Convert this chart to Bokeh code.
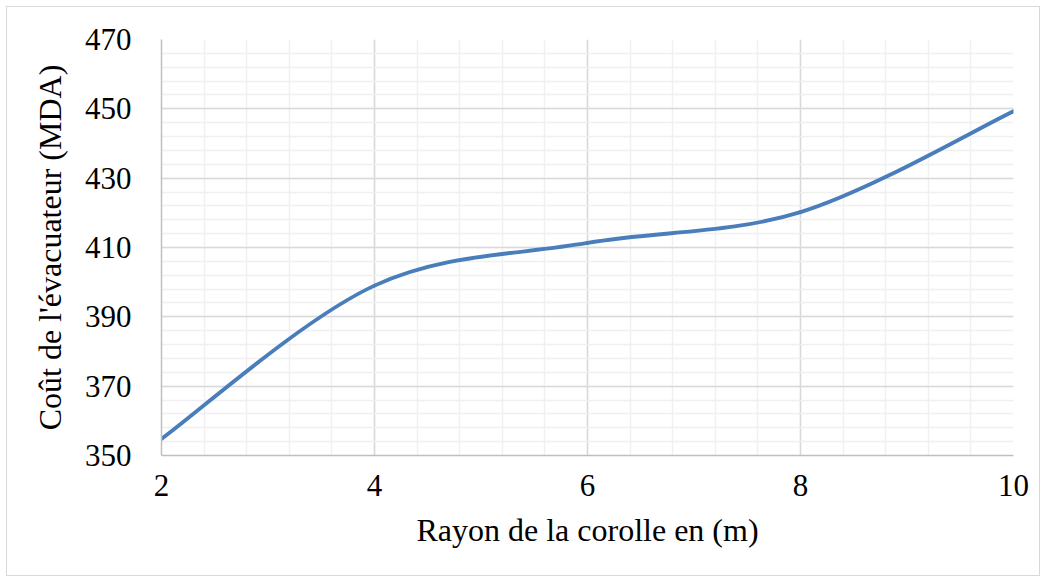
from bokeh.plotting import figure
from bokeh.layouts import column
from bokeh.models import FixedTicker, Range1d
from bokeh.embed import file_html
from bokeh.resources import INLINE

# Spillway cost as a function of the crest (corolla) radius
rayon = [2, 4, 6, 8, 10]
cout = [354.8, 399.0, 411.3, 420.2, 449.3]

x_ticks = [2, 4, 6, 8, 10]
y_ticks = [350, 370, 390, 410, 430, 450, 470]

FONT = "Liberation Serif"


def smooth_segments(xs, ys, k=1.0 / 6.0):
    """Cubic Bezier segments (Catmull-Rom style) through the data points."""
    n = len(xs)
    segs = {k_: [] for k_ in ("x0", "y0", "x1", "y1", "cx0", "cy0", "cx1", "cy1")}
    for i in range(n - 1):
        p0 = (xs[max(i - 1, 0)], ys[max(i - 1, 0)])
        p1 = (xs[i], ys[i])
        p2 = (xs[i + 1], ys[i + 1])
        p3 = (xs[min(i + 2, n - 1)], ys[min(i + 2, n - 1)])
        segs["x0"].append(p1[0]); segs["y0"].append(p1[1])
        segs["x1"].append(p2[0]); segs["y1"].append(p2[1])
        segs["cx0"].append(p1[0] + (p2[0] - p0[0]) * k)
        segs["cy0"].append(p1[1] + (p2[1] - p0[1]) * k)
        segs["cx1"].append(p2[0] - (p3[0] - p1[0]) * k)
        segs["cy1"].append(p2[1] - (p3[1] - p1[1]) * k)
    return segs


p = figure(
    width=1032, height=568,
    output_backend="svg", toolbar_location=None,
    x_range=Range1d(2, 10), y_range=Range1d(350, 470),
    min_border_left=154, min_border_right=26,
    min_border_top=32, min_border_bottom=120,
)
p.background_fill_color = "white"
p.border_fill_color = "white"
p.outline_line_color = None

# axes
p.xaxis.ticker = FixedTicker(ticks=x_ticks,
                             minor_ticks=[2 + 0.4 * i for i in range(21)])
p.yaxis.ticker = FixedTicker(ticks=y_ticks,
                             minor_ticks=[350 + 4 * i for i in range(31)])

p.xaxis.axis_label = "Rayon de la corolle en (m)"
p.yaxis.axis_label = "Coût de l'évacuateur (MDA)"

for ax in (p.xaxis, p.yaxis):
    ax.axis_label_text_font = FONT
    ax.axis_label_text_font_size = "32px"
    ax.axis_label_text_font_style = "normal"
    ax.axis_label_text_color = "black"
    ax.major_label_text_font = FONT
    ax.major_label_text_font_size = "31px"
    ax.major_label_text_color = "black"
    ax.axis_line_color = "#bfbfbf"
    ax.axis_line_width = 1.5
    ax.major_tick_line_color = None
    ax.minor_tick_line_color = None
    ax.major_tick_out = 0
    ax.major_tick_in = 0
    ax.minor_tick_out = 0
    ax.minor_tick_in = 0

p.xaxis.major_label_standoff = 19
p.xaxis.axis_label_standoff = 13
p.yaxis.major_label_standoff = 30
p.yaxis.axis_label_standoff = 14

# grid
for g in (p.xgrid, p.ygrid):
    g.grid_line_color = "#d9d9d9"
    g.grid_line_width = 1.5
    g.minor_grid_line_color = "#f0f0f0"
    g.minor_grid_line_width = 1.5

# smoothed cost curve
segs = smooth_segments(rayon, cout)
p.bezier(x0=segs["x0"], y0=segs["y0"], x1=segs["x1"], y1=segs["y1"],
         cx0=segs["cx0"], cy0=segs["cy0"], cx1=segs["cx1"], cy1=segs["cy1"],
         line_color="#4a7ebb", line_width=3.8, line_cap="round")

# chart-area frame with a light border
layout = column(p, margin=(6, 6, 6, 6),
                styles={"border": "1px solid #d9d9d9", "background": "white"})

open("out.html", "w").write(file_html(layout, INLINE))
